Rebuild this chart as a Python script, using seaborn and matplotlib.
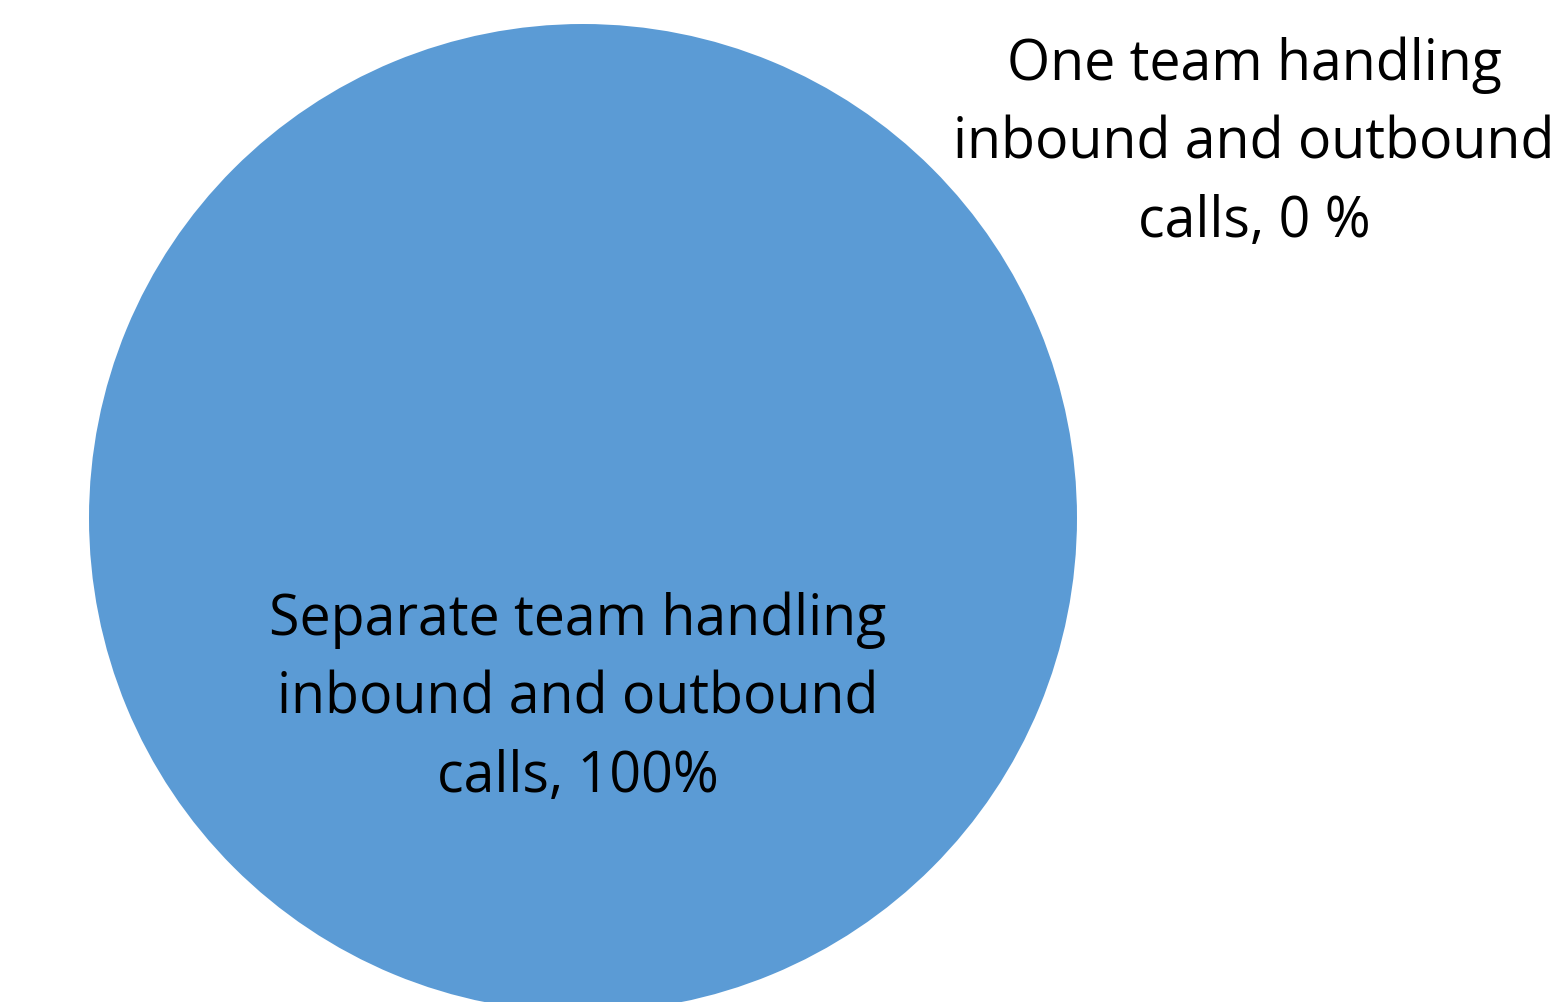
import matplotlib
matplotlib.use("Agg")
import matplotlib.pyplot as plt
import seaborn as sns

categories = ["Separate team handling\ninbound and outbound\ncalls", "One team handling\ninbound and outbound\ncalls"]
values = [100, 0]
value_labels = ["100%", "0 %"]

sns.set_theme(style="white")
plt.rcParams['font.family'] = ['Open Sans', 'DejaVu Sans']

W, H = 1561, 1003
fig = plt.figure(figsize=(W / 100, H / 100), dpi=100)
ax = fig.add_axes([0, 0, 1, 1])

colors = ["#5B9BD5", "#ED7D31"]
ax.pie(values, colors=colors, center=(583, 519), radius=494, startangle=90,
       counterclock=False, frame=True, wedgeprops=dict(linewidth=0))
ax.set_xlim(0, W)
ax.set_ylim(H, 0)
ax.set_aspect("equal")
ax.axis("off")

label_pos = [(578, 699), (1254, 144)]
for cat, lab, (x, y) in zip(categories, value_labels, label_pos):
    ax.text(x, y, f"{cat}, {lab}", ha="center", va="center", fontsize=40,
            color="black", linespacing=1.5)

fig.savefig("out.png", dpi=100)
